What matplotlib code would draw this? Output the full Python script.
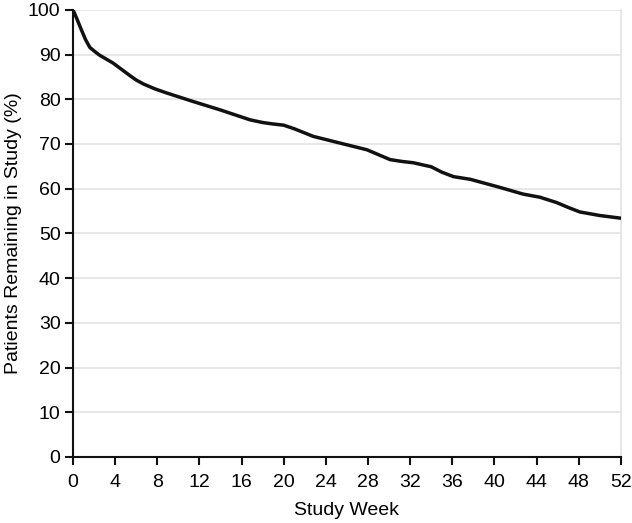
import matplotlib
matplotlib.use("Agg")
import matplotlib.pyplot as plt
import numpy as np

weeks = [0, 0.35, 0.8, 1.2, 1.6, 2.0, 2.5, 3.0, 3.8, 4.6, 5.4, 6.0, 6.7, 7.8, 8.9, 11.4, 14.0,
         16.8, 18.0, 18.9, 20.0, 21.0, 22.8, 25.0, 27.9, 29.0, 30.1, 31.2, 32.3, 34.0,
         35.0, 36.1, 37.7, 40.5, 42.7, 44.3, 45.9, 47.0, 48.1, 50.0, 52.0]
remaining = [100, 98.1, 95.5, 93.3, 91.6, 90.8, 89.9, 89.2, 88.1, 86.7, 85.3, 84.3, 83.4, 82.3,
             81.4, 79.5, 77.6, 75.4, 74.8, 74.5, 74.2, 73.4, 71.7, 70.4, 68.7, 67.6, 66.5,
             66.1, 65.8, 64.9, 63.7, 62.7, 62.1, 60.3, 58.8, 58.1, 56.9, 55.8, 54.8, 54.0, 53.4]
xticks = list(range(0, 53, 4))
yticks = list(range(0, 101, 10))

plt.rcParams['font.family'] = ['Liberation Sans', 'DejaVu Sans']
fig = plt.figure(figsize=(6.32, 5.23), dpi=100)
ax = fig.add_axes([0.1155, 0.1262, 0.867, 0.855])

for yv in yticks[1:]:
    ax.axhline(yv, color='#e3e3e3', lw=1.2, zorder=0)
ax.plot(weeks, remaining, color='#111111', lw=2.5, solid_capstyle='round',
        solid_joinstyle='round', zorder=3)

ax.set_xlim(0, 52)
ax.set_ylim(0, 100)
ax.set_xticks(xticks)
ax.set_yticks(yticks)
ax.spines['top'].set_visible(False)
ax.spines['right'].set_color('#e3e3e3')
ax.spines['right'].set_linewidth(1.2)
for s in ['left', 'bottom']:
    ax.spines[s].set_linewidth(1.5)
    ax.spines[s].set_color('#111111')
ax.tick_params(direction='out', length=6, width=1.5, labelsize=14, color='#111111')
ax.tick_params(axis='x', pad=6)
ax.tick_params(axis='y', pad=3)
ax.set_xlabel('Study Week', fontsize=14, labelpad=8)
ax.set_ylabel('Patients Remaining in Study (%)', fontsize=14, labelpad=4)

fig.savefig('out.png', dpi=100)
